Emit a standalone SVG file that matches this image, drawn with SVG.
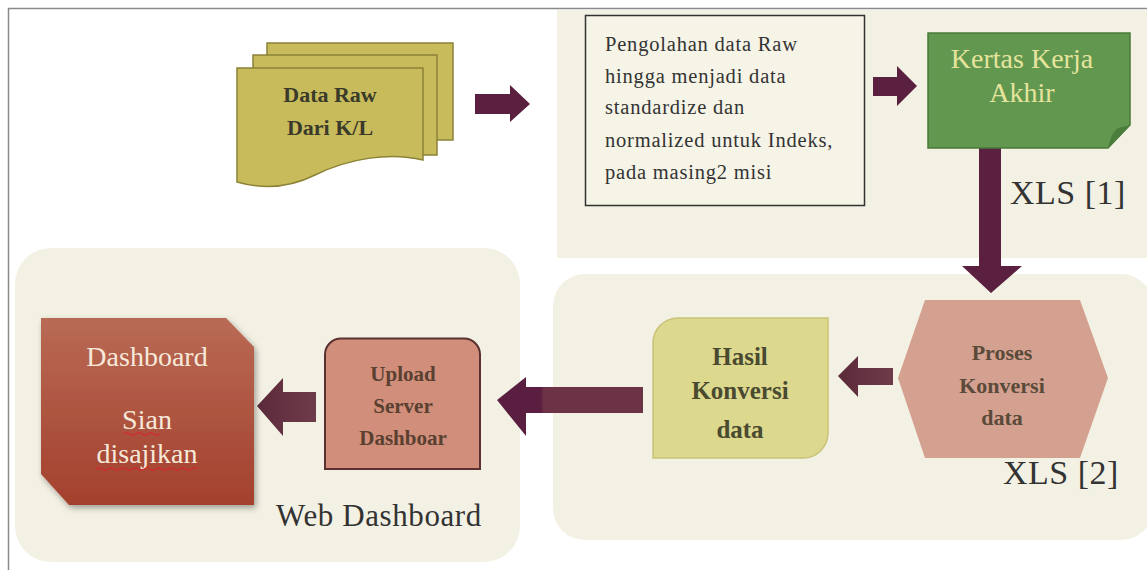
<svg xmlns="http://www.w3.org/2000/svg" width="1147" height="570" viewBox="0 0 1147 570">
<defs>
<style>
.panel{fill:#f3f1e3}
.arr{fill:#5b1f3f}
.serif{font-family:"Liberation Serif","Times New Roman",serif}
.lbl{font-family:"Liberation Serif","Times New Roman",serif;fill:#333333}
.b{font-weight:bold}
</style>
<linearGradient id="dash" x1="0" y1="0" x2="0" y2="1">
<stop offset="0" stop-color="#b96a55"/>
<stop offset="1" stop-color="#a3402d"/>
</linearGradient>
<linearGradient id="big" x1="0" y1="0" x2="1" y2="0">
<stop offset="0" stop-color="#5a1f40"/>
<stop offset="0.3" stop-color="#5a1f40"/>
<stop offset="0.32" stop-color="#6c3347"/>
<stop offset="1" stop-color="#6c3347"/>
</linearGradient>
<linearGradient id="sm" x1="0" y1="0" x2="1" y2="0">
<stop offset="0" stop-color="#5b2a3a"/>
<stop offset="1" stop-color="#6e3b4a"/>
</linearGradient>
<filter id="sh" x="-10%" y="-10%" width="125%" height="125%">
<feDropShadow dx="2" dy="3" stdDeviation="3" flood-color="#000" flood-opacity="0.35"/>
</filter>
</defs>
<rect width="1147" height="570" fill="#ffffff"/>
<path d="M8.5,570 V8.5 H1147" fill="none" stroke="#8a8a8a" stroke-width="1.5"/>

<g id="panels">
<rect class="panel" x="557" y="10" width="590" height="248"/>
<rect class="panel" x="553" y="274" width="600" height="266" rx="32"/>
<rect class="panel" x="15" y="248" width="505" height="314" rx="36"/>
</g>

<g id="connectors">
<path class="arr" d="M475,94 H510 V85 L530,104 L510,122 V114 H475 Z"/>
<path class="arr" d="M873,77 H897 V66 L917,86 L897,106 V96 H873 Z"/>
<path class="arr" d="M979,148 H1001 V266 H1022 L991,293 L962,266 H979 Z"/>
<path fill="url(#sm)" d="M893,368 V385 H858 V397 L838,376 L858,356 V368 Z"/>
<path fill="url(#big)" d="M643,387 V413 H526 V436 L497,400 L526,377 V387 Z"/>
<path fill="url(#sm)" d="M316,392 V422 H283 V436 L257,406 L283,378 V392 Z"/>
</g>

<g id="data-raw">
<rect x="267" y="43" width="186" height="97" fill="#c8bb5c" stroke="#8c8236" stroke-width="1.5"/>
<rect x="253" y="55" width="184" height="100" fill="#c8bb5c" stroke="#8c8236" stroke-width="1.5"/>
<path d="M237,68 H423 V160 C390,152 350,158 315,175 C285,190 258,188 237,182 Z" fill="#c8bb5c" stroke="#8c8236" stroke-width="1.5"/>
<text class="serif b" x="330" y="102" font-size="22" text-anchor="middle" fill="#3a3a2a">Data Raw</text>
<text class="serif b" x="330" y="135" font-size="22" text-anchor="middle" fill="#3a3a2a">Dari K/L</text>
</g>

<g id="pengolahan">
<rect x="585.5" y="15.5" width="279" height="190" fill="#f6f4e7" stroke="#333" stroke-width="1.5"/>
<g class="lbl" font-size="20.5" letter-spacing="0.8">
<text x="605" y="51">Pengolahan data Raw</text>
<text x="605" y="83">hingga menjadi data</text>
<text x="605" y="114">standardize dan</text>
<text x="605" y="147">normalized untuk Indeks,</text>
<text x="605" y="179">pada masing2 misi</text>
</g>
</g>

<g id="kertas">
<path d="M928,33 H1130 V125 L1108,148 H928 Z" fill="#629750" stroke="#4a7a3a" stroke-width="1.5"/>
<path d="M1130,125 L1108,148 C1110,140 1112,132 1118,128 Z" fill="#4b7d3c"/>
<text class="serif" x="1022" y="68" font-size="28" text-anchor="middle" fill="#e6e49c">Kertas Kerja</text>
<text class="serif" x="1022" y="102" font-size="28" text-anchor="middle" fill="#e6e49c">Akhir</text>
</g>
<text class="lbl" x="1010" y="204" font-size="34" letter-spacing="0.5">XLS [1]</text>

<g id="proses">
<polygon points="898,378 925,300 1080,300 1108,378 1080,458 925,458" fill="#d4a190"/>
<g class="serif b" font-size="22" text-anchor="middle" fill="#5a4a3a">
<text x="1002" y="360">Proses</text>
<text x="1002" y="393">Konversi</text>
<text x="1002" y="425">data</text>
</g>
</g>
<text class="lbl" x="1003" y="484" font-size="34" letter-spacing="0.5">XLS [2]</text>

<g id="hasil">
<path d="M678,318 H828 V433 A25,25 0 0 1 803,458 H653 V343 A25,25 0 0 1 678,318 Z" fill="#dcd88e" stroke="#c9c278" stroke-width="1.5"/>
<g class="serif b" font-size="25" text-anchor="middle" fill="#4a4a30">
<text x="740" y="365">Hasil</text>
<text x="740" y="399">Konversi</text>
<text x="740" y="438">data</text>
</g>
</g>

<g id="upload">
<path d="M341,338.5 H464 A16,16 0 0 1 480,354.5 V469 H325 V354.5 A16,16 0 0 1 341,338.5 Z" fill="#d08e7b" stroke="#5a3030" stroke-width="2"/>
<g class="serif b" font-size="21" text-anchor="middle" fill="#5a4030">
<text x="403" y="381">Upload</text>
<text x="403" y="413">Server</text>
<text x="403" y="445">Dashboar</text>
</g>
</g>

<g id="dashboard">
<path d="M41,318 H226 L254,347 V505 H69 L41,474 Z" fill="url(#dash)" filter="url(#sh)"/>
<g class="serif" font-size="28" text-anchor="middle" fill="#f6e9da">
<text x="147" y="366">Dashboard</text>
<text x="147" y="429">Sian</text>
<text x="147" y="463">disajikan</text>
</g>
<path d="M124,434 q3,-3 6,0 t6,0 t6,0 t6,0 t6,0 t6,0" fill="none" stroke="#e0202a" stroke-width="1"/>
<path d="M96,469 q3,-3 6,0 t6,0 t6,0 t6,0 t6,0 t6,0 t6,0 t6,0 t6,0 t6,0 t6,0 t6,0 t6,0 t6,0 t6,0 t6,0 t6,0" fill="none" stroke="#e0202a" stroke-width="1"/>
</g>
<text class="lbl" x="276" y="526" font-size="31" letter-spacing="0.6">Web Dashboard</text>
</svg>
